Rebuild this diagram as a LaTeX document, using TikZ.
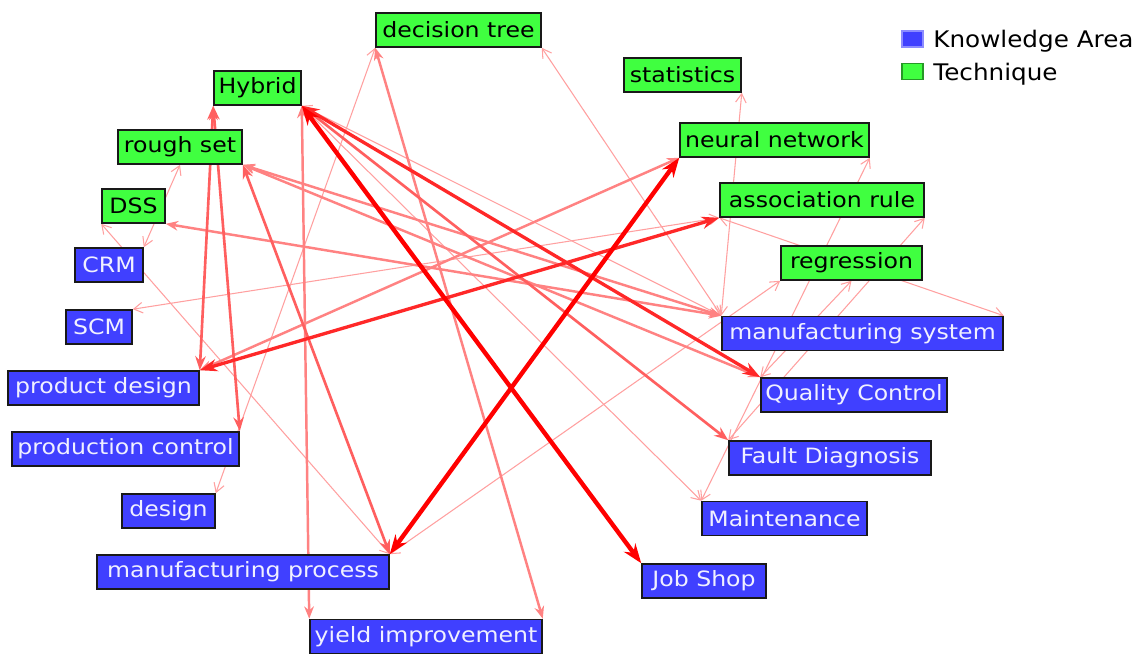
\documentclass[tikz,border=0pt]{standalone}
\usepackage{fontspec}
\usetikzlibrary{arrows.meta}
\newfontfamily\boxfamily[FakeStretch=1.12]{DejaVu Sans}
\newfontfamily\legfamily[FakeStretch=1.08]{DejaVu Sans}
\definecolor{techgreen}{RGB}{64,255,64}
\definecolor{areablue}{RGB}{64,64,255}
\definecolor{areatext}{RGB}{240,240,255}
\definecolor{rfour}{RGB}{255,0,0}
\definecolor{rthree}{RGB}{255,40,40}
\definecolor{rtwo}{RGB}{255,95,95}
\definecolor{rone}{RGB}{255,130,130}
\definecolor{rzero}{RGB}{255,160,160}
\pgfdeclarelayer{back}
\pgfdeclarelayer{bg}
\pgfsetlayers{back,bg,main}
\tikzset{
  box/.style={draw=black!90, line width=0.9pt, minimum height=0.68cm, inner sep=0pt,
    font=\boxfamily\fontsize{12pt}{14pt}\selectfont},
  tech/.style={box, fill=techgreen, text=black},
  area/.style={box, fill=areablue, text=areatext},
  lkfour/.style={draw=rfour, line width=2.5pt, >={Stealth[length=11pt,width=8pt]}, <->},
  lkthree/.style={draw=rthree, line width=1.9pt, >={Stealth[length=10pt,width=7pt]}, <->},
  lktwo/.style={draw=rtwo, line width=1.5pt, >={Stealth[length=8pt,width=6pt]}, <->},
  lkone/.style={draw=rone, line width=1.4pt, >={Stealth[length=7pt,width=5.5pt]}, <->},
  lkthin/.style={draw=rzero, line width=0.6pt, >={Straight Barb[length=5pt,width=6pt]}, <->},
  legsq/.style={minimum width=0.42cm, minimum height=0.32cm, inner sep=0pt, line width=0.6pt},
  legtxt/.style={anchor=west, inner sep=0pt, font=\legfamily\fontsize{13pt}{15pt}\selectfont}
}
\begin{document}
\begin{tikzpicture}[x=0.02cm, y=-0.02cm]
\begin{pgfonlayer}{back}
\fill[white] (0,0) rectangle (1139,653);
\end{pgfonlayer}
\useasboundingbox (0,0) rectangle (1139,653);
% techniques
\node[tech, minimum width=3.30cm] (dt) at (458.5,30) {decision tree};
\node[tech, minimum width=1.74cm] (hyb) at (257.5,88) {Hybrid};
\node[tech, minimum width=2.34cm] (stat) at (682.5,75) {statistics};
\node[tech, minimum width=2.48cm] (rs) at (180,147) {rough set};
\node[tech, minimum width=3.78cm] (nn) at (774.5,140) {neural network};
\node[tech, minimum width=1.26cm] (dss) at (133.5,206) {DSS};
\node[tech, minimum width=4.08cm] (ar) at (822,200) {association rule};
\node[tech, minimum width=2.82cm] (reg) at (851.5,263) {regression};
% knowledge areas
\node[area, minimum width=1.36cm] (crm) at (109,265) {CRM};
\node[area, minimum width=1.32cm] (scm) at (99,327) {SCM};
\node[area, minimum width=5.62cm] (ms) at (862.5,333.5) {manufacturing system};
\node[area, minimum width=3.82cm] (pd) at (103.5,388) {product design};
\node[area, minimum width=3.72cm] (qc) at (854,395) {Quality Control};
\node[area, minimum width=4.54cm] (pc) at (125.5,449) {production control};
\node[area, minimum width=4.04cm] (fd) at (830,458) {Fault Diagnosis};
\node[area, minimum width=1.86cm] (des) at (168.5,511) {design};
\node[area, minimum width=3.30cm] (mnt) at (784.5,518.5) {Maintenance};
\node[area, minimum width=5.84cm] (mp) at (243,572) {manufacturing process};
\node[area, minimum width=2.48cm] (js) at (704,581) {Job Shop};
\node[area, minimum width=4.64cm] (yld) at (426,636.5) {yield improvement};
% legend
\node[legsq, fill=areablue, draw=areablue!60] (lgka) at (912.5,39) {};
\node[legtxt] (lgkat) at (933,41) {Knowledge Area};
\node[legsq, fill=techgreen, draw=techgreen!60!black] (lgt) at (912.5,71.5) {};
\node[legtxt] (lgtt) at (933,74) {Technique};
\begin{pgfonlayer}{bg}
% thin links
\draw[lkthin] (dt.south west) -- (des.north east);
\draw[lkthin] (dt.south east) -- (ms.north west);
\draw[lkthin] (stat.south east) -- (ms.north west);
\draw[lkthin] (nn.south east) -- (mnt.north west);
\draw[lkthin] (ar.south east) -- (fd.north west);
\draw[lkthin] (ar.south west) -- (ms.north east);
\draw[lkthin] (scm.north east) -- (ar.south west);
\draw[lkthin] (rs.south) -- (crm.north east);
\draw[lkthin] (dss.south west) -- (mp.north east);
\draw[lkthin] (reg.south west) -- (mp.north east);
\draw[lkthin] (reg.south) -- (qc.north west);
\draw[lkthin] (hyb.south east) -- (mnt.north west);
\draw[lkthin] (hyb.south east) -- (ms.north west);
% light links
\draw[lkone] (hyb.south east) -- (yld.north west);
\draw[lkone] (dt.south west) -- (yld.north east);
\draw[lkone] (pd.north east) -- (nn.south west);
\draw[lkone] (rs.south east) -- (qc.north west);
\draw[lkone] (rs.south east) -- (ms.north west);
\draw[lkone] (dss.south east) -- (ms.north west);
% medium links
\draw[lktwo] (hyb.south west) -- (pd.north east);
\draw[lktwo] (hyb.south west) -- (pc.north east);
\draw[lktwo] (rs.south east) -- (mp.north east);
\draw[lktwo] (hyb.south east) -- (fd.north west);
% strong links
\draw[lkthree] (hyb.south east) -- (qc.north west);
\draw[lkthree] (pd.north east) -- (ar.south west);
\draw[lkfour] (mp.north east) -- (nn.south west);
\draw[lkfour] (hyb.south east) -- (js.north west);
\end{pgfonlayer}
\end{tikzpicture}
\end{document}
